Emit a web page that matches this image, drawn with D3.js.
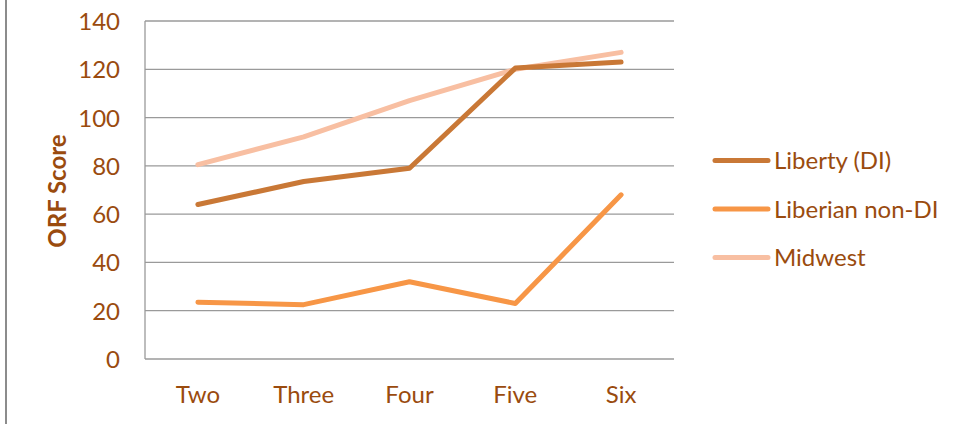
<!DOCTYPE html>
<html>
<head>
<meta charset="utf-8">
<script src="https://cdn.jsdelivr.net/npm/d3@7"></script>
<style>
  body { margin: 0; background: #fff; }
  text { font-family: Lato, "Open Sans", sans-serif; fill: #9a4b0e; }
</style>
</head>
<body>
<div id="chart"></div>
<script>
const grades = ["Two", "Three", "Four", "Five", "Six"];
const libertyDI = [64, 73.5, 79, 120.5, 123];
const liberianNonDI = [23.5, 22.5, 32, 23, 68];
const midwest = [80.5, 92, 107, 120, 127];
const yTicks = [0, 20, 40, 60, 80, 100, 120, 140];
const seriesNames = ["Liberty (DI)", "Liberian non-DI", "Midwest"];
const seriesColors = ["#c97836", "#f79646", "#f8bfa2"];

const W = 956, H = 424;
const plotL = 145, plotR = 674, plotT = 21, plotB = 359;
const fontSize = 24;

const svg = d3.select("#chart").append("svg")
    .attr("width", W)
    .attr("height", H);

// outer frame edge on the left
svg.append("line")
    .attr("x1", 6).attr("x2", 6)
    .attr("y1", 0).attr("y2", H)
    .attr("stroke", "#8c8c8c")
    .attr("stroke-width", 2);

const x = d3.scaleBand().domain(grades).range([plotL, plotR]);
const y = d3.scaleLinear().domain([0, 140]).range([plotB, plotT]);

// gridlines
svg.append("g")
    .selectAll("line")
    .data(yTicks)
    .join("line")
    .attr("x1", plotL).attr("x2", plotR)
    .attr("y1", d => y(d)).attr("y2", d => y(d))
    .attr("stroke", "#9a9a9a")
    .attr("stroke-width", 1.3);

// y axis line
svg.append("line")
    .attr("x1", plotL).attr("x2", plotL)
    .attr("y1", plotT).attr("y2", plotB)
    .attr("stroke", "#9a9a9a")
    .attr("stroke-width", 1.3);

// y tick labels
svg.append("g")
    .selectAll("text")
    .data(yTicks)
    .join("text")
    .attr("x", 120)
    .attr("y", d => y(d) + 9)
    .attr("text-anchor", "end")
    .attr("font-size", fontSize)
    .text(d => d);

// x tick labels
svg.append("g")
    .selectAll("text")
    .data(grades)
    .join("text")
    .attr("x", d => x(d) + x.bandwidth() / 2)
    .attr("y", 403)
    .attr("text-anchor", "middle")
    .attr("font-size", fontSize)
    .text(d => d);

// y axis title
svg.append("text")
    .attr("transform", "translate(66,191) rotate(-90)")
    .attr("text-anchor", "middle")
    .attr("font-size", fontSize)
    .attr("font-weight", "bold")
    .text("ORF Score");

const line = d3.line()
    .x((d, i) => x(grades[i]) + x.bandwidth() / 2)
    .y(d => y(d));

const allSeries = [libertyDI, liberianNonDI, midwest];
// draw Midwest first so the darker lines sit on top
const order = [2, 1, 0];
svg.append("g")
    .selectAll("path")
    .data(order)
    .join("path")
    .attr("d", i => line(allSeries[i]))
    .attr("fill", "none")
    .attr("stroke", i => seriesColors[i])
    .attr("stroke-width", 5)
    .attr("stroke-linecap", "round")
    .attr("stroke-linejoin", "round");

// legend
const legend = svg.append("g")
    .selectAll("g")
    .data(seriesNames)
    .join("g")
    .attr("transform", (d, i) => `translate(0,${160.5 + i * 48.5})`);

legend.append("line")
    .attr("x1", 715).attr("x2", 768)
    .attr("y1", 0).attr("y2", 0)
    .attr("stroke", (d, i) => seriesColors[i])
    .attr("stroke-width", 5)
    .attr("stroke-linecap", "round");

legend.append("text")
    .attr("x", 774)
    .attr("y", 8.5)
    .attr("font-size", fontSize)
    .text(d => d);
</script>
</body>
</html>
